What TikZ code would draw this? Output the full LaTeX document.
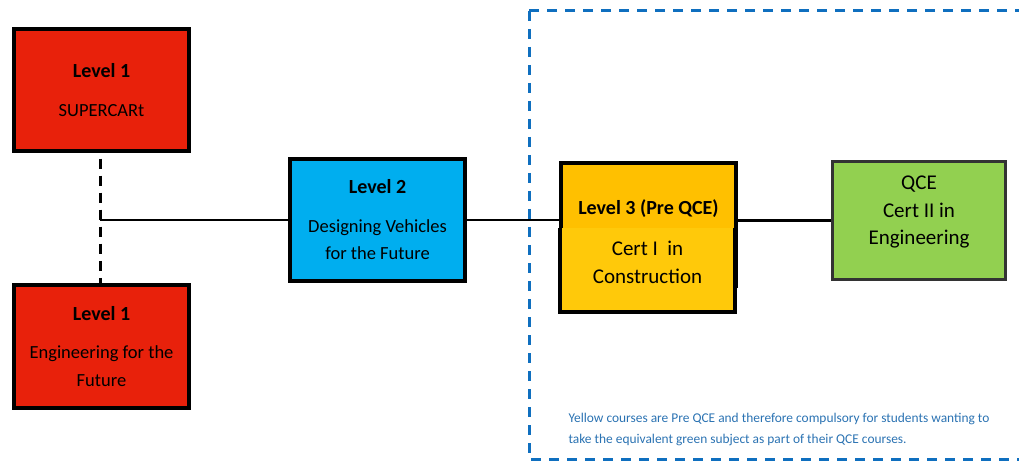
\documentclass[tikz,border=0pt]{standalone}
\usepackage{fontspec}
\setmainfont{Carlito}
\usepackage{tikz}

\definecolor{lvlred}{HTML}{E8210B}
\definecolor{lvlblue}{HTML}{00AEEF}
\definecolor{lvlyellow}{HTML}{FFC000}
\definecolor{certyellow}{HTML}{FFC90A}
\definecolor{qcegreen}{HTML}{92D050}
\definecolor{frameblue}{HTML}{0F6FBF}
\definecolor{noteblue}{HTML}{2A72B2}

\newcommand{\lvlhead}[1]{{\fontsize{20}{24}\selectfont\bfseries #1}}
\newcommand{\dropby}[1]{\rule[-#1]{0pt}{0pt}}

\begin{document}
\begin{tikzpicture}[x=1pt, y=-1pt,
    course/.style={draw=black, line width=3.5pt, align=center, inner sep=0pt,
        font=\fontsize{18.5}{27.5}\selectfont},
    link/.style={line width=2.5pt},
    linkdash/.style={line width=3pt, dash pattern=on 10pt off 7pt},
    frame/.style={draw=frameblue, line width=3pt, dash pattern=on 10pt off 8pt}]
    \useasboundingbox (0,0) rectangle (1019,462); % page size
    \draw[frame] (529,11) rectangle (1040,459);
    % level 1 and 2
    \node[course, fill=lvlred, minimum width=175, minimum height=122] (supercar) at (101.5,90) {\lvlhead{Level 1}\\[11pt]SUPERCARt};
    \node[course, fill=lvlred, minimum width=175, minimum height=123] (engfuture) at (101.5,346.5) {\lvlhead{Level 1}\\[11pt]Engineering for the\\Future};
    \node[course, fill=lvlblue, minimum width=175, minimum height=122] (vehicles) at (377.5,220) {\lvlhead{Level 2}\\[11pt]Designing Vehicles\\for the Future};
    % level 3 and QCE
    \node[course, fill=lvlyellow, minimum width=175, minimum height=123, font=\fontsize{20}{24}\selectfont\bfseries] (levelthree) at (648.5,224.5) {Level 3 (Pre QCE)\dropby{34pt}};
    \node[fill=certyellow, minimum width=175, minimum height=84, inner sep=0pt, align=center, font=\fontsize{21}{27.5}\selectfont] (certone) at (647.5,270) {Cert I\ \ in\\Construction\dropby{15pt}};
    \draw[line width=3.5pt] (certone.north west) -- (certone.south west) -- (certone.south east) -- (certone.north east);
    \node[course, draw=black!80, line width=3pt, fill=qcegreen, minimum width=173, minimum height=118, font=\fontsize{21}{27.5}\selectfont] (qce) at (919,220.5) {QCE\\Cert II in\\Engineering\dropby{20pt}};
    % connectors
    \coordinate (junc) at (100,220);
    \draw[linkdash] ([yshift=-6pt]supercar.south -| junc) -- (engfuture.north -| junc);
    \draw[link] (junc) -- (vehicles.west);
    \draw[link] (vehicles.east) -- (vehicles.east -| levelthree.west);
    \draw[link] (qce.west -| levelthree.east) -- (qce.west);
    \node[anchor=west, align=left, text=noteblue, font=\fontsize{13.4}{20.5}\selectfont] (note) at (565,429.5) {Yellow courses are Pre QCE and therefore compulsory for students wanting to\\take the equivalent green subject as part of their QCE courses.};
\end{tikzpicture}
\end{document}
